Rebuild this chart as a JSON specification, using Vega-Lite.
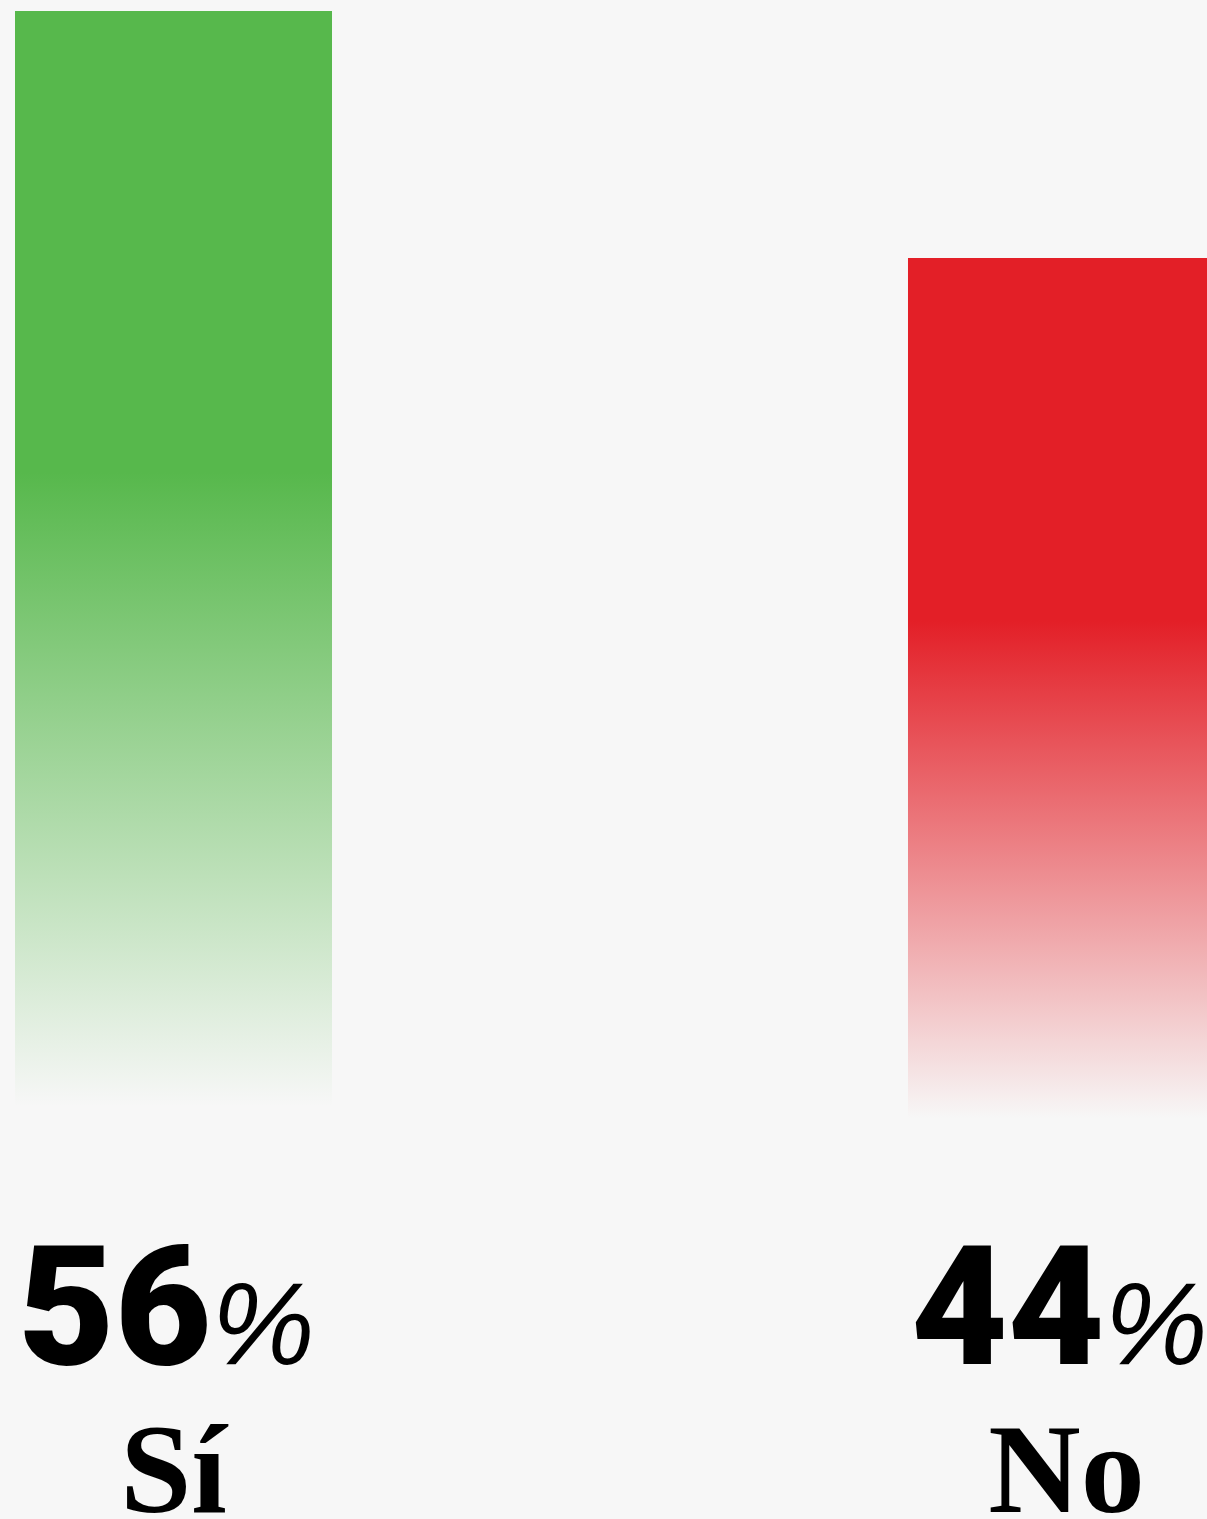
{
  "$schema": "https://vega.github.io/schema/vega-lite/v6.json",
  "width": 1207,
  "height": 1519,
  "autosize": {"type": "none"},
  "padding": 0,
  "background": "#f7f7f7",
  "config": {"view": {"stroke": null}},
  "data": {"values": [
    {"answer": "Sí", "pct": 56},
    {"answer": "No", "pct": 44}
  ]},
  "encoding": {
    "x": {"field": "answer", "type": "nominal", "sort": ["Sí", "No"], "axis": null,
          "scale": {"range": [15, 1225], "paddingInner": 0.645, "paddingOuter": 0}}
  },
  "layer": [
    {
      "mark": {"type": "bar"},
      "encoding": {
        "y": {"field": "pct", "type": "quantitative", "axis": null,
              "scale": {"domain": [0, 56], "range": [1164, 11], "zero": true, "nice": false}},
        "color": {
          "condition": {"test": "datum.answer === 'Sí'", "value": {
            "gradient": "linear", "x1": 0, "y1": 0, "x2": 0, "y2": 1,
            "stops": [
              {"offset": 0, "color": "rgba(87,184,76,1)"},
              {"offset": 0.40, "color": "rgba(87,184,76,1)"},
              {"offset": 0.95, "color": "rgba(87,184,76,0)"},
              {"offset": 1, "color": "rgba(87,184,76,0)"}
            ]}},
          "value": {
            "gradient": "linear", "x1": 0, "y1": 0, "x2": 0, "y2": 1,
            "stops": [
              {"offset": 0, "color": "rgba(227,31,39,1)"},
              {"offset": 0.40, "color": "rgba(227,31,39,1)"},
              {"offset": 0.95, "color": "rgba(227,31,39,0)"},
              {"offset": 1, "color": "rgba(227,31,39,0)"}
            ]}
        }
      }
    },
    {
      "mark": {"type": "text", "align": "right", "baseline": "alphabetic", "dx": 38, "dy": 200,
               "font": "Roboto", "fontWeight": 900, "fontSize": 167, "color": "#000000"},
      "encoding": {
        "y": {"datum": 0, "type": "quantitative"},
        "text": {"field": "pct", "type": "quantitative"}
      }
    },
    {
      "mark": {"type": "text", "align": "left", "baseline": "alphabetic", "dx": 38, "dy": 200,
               "font": "Liberation Sans", "fontStyle": "italic", "fontWeight": "normal", "fontSize": 116, "color": "#000000", "text": "%"},
      "encoding": {
        "y": {"datum": 0, "type": "quantitative"}
      }
    },
    {
      "mark": {"type": "text", "align": "center", "baseline": "alphabetic", "dy": 348,
               "font": "Liberation Serif", "fontWeight": "bold", "fontSize": 128, "color": "#000000"},
      "encoding": {
        "y": {"datum": 0, "type": "quantitative"},
        "text": {"field": "answer", "type": "nominal"}
      }
    }
  ]
}
